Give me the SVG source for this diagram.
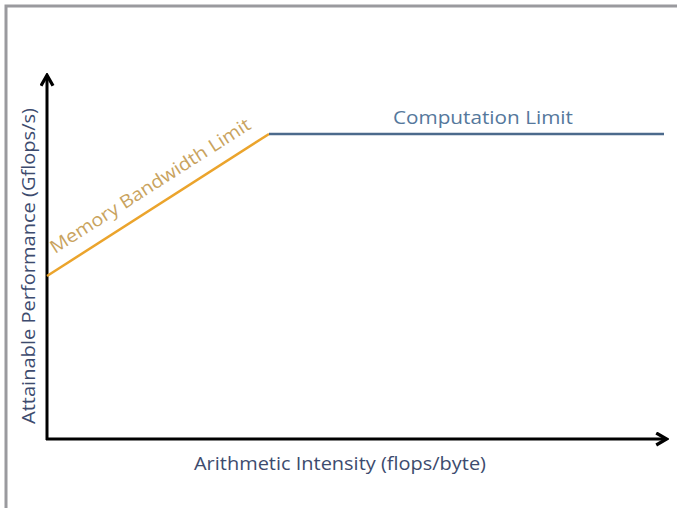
<svg xmlns="http://www.w3.org/2000/svg" width="677" height="508" viewBox="0 0 677 508">
<style>
text{font-family:"Open Sans","Liberation Sans",sans-serif;font-size:18px}
.axis{stroke:#000;stroke-width:3;fill:none}
.lbl{fill:#3d4b6e}
</style>
<defs>
<marker id="ah" viewBox="0 0 10 10" refX="8" refY="5" markerWidth="5" markerHeight="5" orient="auto" markerUnits="strokeWidth">
<path d="M1.5,1 L8.5,5 L1.5,9" fill="none" stroke="#000" stroke-width="2.2"/>
</marker>
</defs>
<rect width="677" height="508" fill="#fff"/>
<path d="M6,508 V6 H677" fill="none" stroke="#9a9a9e" stroke-width="3"/>
<g id="connectors">
<line class="axis" x1="47" y1="440" x2="47" y2="76" marker-end="url(#ah)"/>
<line class="axis" x1="46" y1="439" x2="666" y2="439" marker-end="url(#ah)"/>
<line x1="47" y1="276" x2="269" y2="134" stroke="#eba42c" stroke-width="2.5"/>
<line x1="269" y1="134" x2="664" y2="134" stroke="#4c6a8c" stroke-width="2.5"/>
</g>
<g id="memory-label">
<text transform="translate(55,254) rotate(-32.6)" font-size="20" textLength="234" lengthAdjust="spacingAndGlyphs" fill="#c9a35e">Memory Bandwidth Limit</text>
</g>
<g id="computation-label">
<text x="393" y="124" textLength="180" lengthAdjust="spacingAndGlyphs" fill="#55789c">Computation Limit</text>
</g>
<g id="y-label">
<text class="lbl" transform="translate(35,424) rotate(-90)" textLength="316" lengthAdjust="spacingAndGlyphs">Attainable Performance (Gflops/s)</text>
</g>
<g id="x-label">
<text class="lbl" x="194" y="470" textLength="292" lengthAdjust="spacingAndGlyphs">Arithmetic Intensity (flops/byte)</text>
</g>
</svg>
